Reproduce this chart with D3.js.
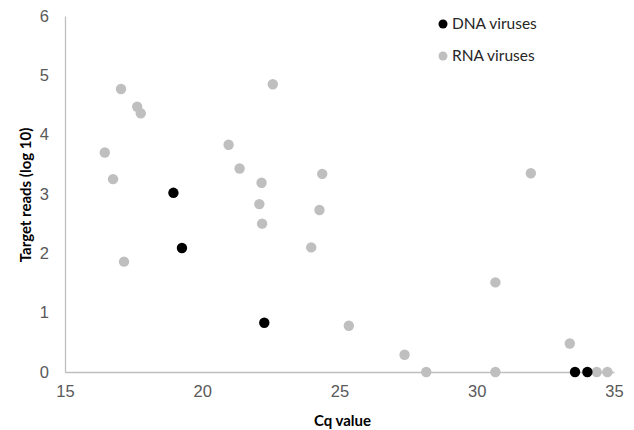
<!DOCTYPE html>
<html>
<head>
<meta charset="utf-8">
<script src="https://cdn.jsdelivr.net/npm/d3@7"></script>
<style>
  body { margin: 0; background: #fff; }
  svg { font-family: Lato, "Open Sans", sans-serif; }
  .tick text { fill: #595959; font-size: 16.5px; }
  .axis-title { font-weight: bold; font-size: 15px; fill: #000; }
  .legend text { font-size: 15.5px; fill: #262626; }
</style>
</head>
<body>
<div id="chart"></div>
<script>
// Cq value vs target reads (log 10)
var dnaCq    = [18.95, 19.26, 22.26, 33.58, 34.03];
var dnaReads = [3.02, 2.09, 0.83, 0, 0];

var rnaCq    = [16.45, 16.75, 17.04, 17.15, 17.63, 17.76, 20.96, 21.36, 22.08, 22.16, 22.18, 22.57,
                23.97, 24.27, 24.37, 25.34, 27.37, 28.16, 30.68, 30.68, 31.97, 33.39, 34.37, 34.76];
var rnaReads = [3.70, 3.25, 4.77, 1.86, 4.47, 4.36, 3.83, 3.43, 2.83, 3.19, 2.50, 4.85,
                2.10, 2.73, 3.34, 0.78, 0.29, 0, 1.51, 0, 3.35, 0.48, 0, 0];

var xTicks = [15, 20, 25, 30, 35];
var yTicks = [0, 1, 2, 3, 4, 5, 6];

var seriesNames = ["DNA viruses", "RNA viruses"];
var seriesColors = ["#000000", "#bfbfbf"];

var width = 634, height = 430;
var margin = { top: 16, right: 20, bottom: 58, left: 65 };
var chartWidth = 614 - margin.left;
var chartHeight = 372 - margin.top;

var svg = d3.select("#chart")
  .append("svg")
  .attr("width", width)
  .attr("height", height);

var g = svg.append("g")
  .attr("transform", "translate(" + margin.left + "," + margin.top + ")");

var xScale = d3.scaleLinear().domain([15, 35]).range([0, chartWidth]);
var yScale = d3.scaleLinear().domain([0, 6]).range([chartHeight, 0]);

var xAxis = d3.axisBottom(xScale)
  .tickValues(xTicks)
  .tickFormat(d3.format("d"))
  .tickSize(0)
  .tickPadding(13);
var yAxis = d3.axisLeft(yScale)
  .tickValues(yTicks)
  .tickFormat(d3.format("d"))
  .tickSize(0)
  .tickPadding(16);

g.append("g")
  .attr("class", "x-axis")
  .attr("transform", "translate(0," + chartHeight + ")")
  .call(xAxis);

g.append("g")
  .attr("class", "y-axis")
  .call(yAxis);

g.selectAll(".domain").attr("stroke", "#bfbfbf").attr("stroke-width", 1.3);

// points, DNA drawn last so it sits on top
var rnaData = rnaCq.map(function(c, i) { return { x: c, y: rnaReads[i] }; });
var dnaData = dnaCq.map(function(c, i) { return { x: c, y: dnaReads[i] }; });

g.append("g")
  .selectAll("circle")
  .data(rnaData)
  .enter()
  .append("circle")
  .attr("cx", function(d) { return xScale(d.x); })
  .attr("cy", function(d) { return yScale(d.y); })
  .attr("r", 5.2)
  .attr("fill", seriesColors[1]);

g.append("g")
  .selectAll("circle")
  .data(dnaData)
  .enter()
  .append("circle")
  .attr("cx", function(d) { return xScale(d.x); })
  .attr("cy", function(d) { return yScale(d.y); })
  .attr("r", 5.2)
  .attr("fill", seriesColors[0]);

// legend
var legend = svg.append("g")
  .attr("class", "legend")
  .attr("transform", "translate(443,24)");

var items = legend.selectAll("g")
  .data(seriesNames)
  .enter()
  .append("g")
  .attr("transform", function(d, i) { return "translate(0," + i * 32 + ")"; });

items.append("circle")
  .attr("r", 4.5)
  .attr("fill", function(d, i) { return seriesColors[i]; });

items.append("text")
  .attr("x", 9)
  .attr("dy", "0.35em")
  .text(function(d) { return d; });

// axis titles
svg.append("text")
  .attr("class", "axis-title")
  .attr("x", margin.left + chartWidth / 2 + 3)
  .attr("y", 426)
  .attr("text-anchor", "middle")
  .text("Cq value");

svg.append("text")
  .attr("class", "axis-title")
  .attr("transform", "translate(31," + (margin.top + chartHeight / 2 + 1) + ") rotate(-90)")
  .attr("text-anchor", "middle")
  .text("Target reads (log 10)");
</script>
</body>
</html>
